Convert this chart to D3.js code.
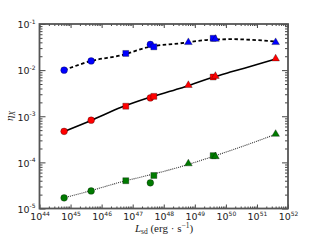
<!DOCTYPE html>
<html>
<head>
<meta charset="utf-8">
<script src="https://cdn.jsdelivr.net/npm/d3@7"></script>
<style>
  body { margin: 0; background: #fff; }
  text { font-family: "DejaVu Sans", sans-serif; }
</style>
</head>
<body>
<div id="chart"></div>
<script>
// spin-down luminosity of each marker group
var circleL   = [6.2e44, 4.6e45, 3.7e47];
var squareL   = [6.0e46, 4.8e47, 3.9e49];
var triangleL = [6.2e48, 4.6e49, 4.0e51];

// eta_X per band, one value per marker in the groups above
var blueCircle   = [0.0100, 0.0158, 0.036];
var blueSquare   = [0.023, 0.032, 0.049];
var blueTriangle = [0.040, 0.047, 0.040];
var redCircle    = [4.7e-4, 8.2e-4, 2.5e-3];
var redSquare    = [1.65e-3, 2.7e-3, 7.1e-3];
var redTriangle  = [4.7e-3, 7.4e-3, 0.0177];
var greenCircle   = [1.7e-5, 2.4e-5, 3.6e-5];
var greenSquare   = [4.0e-5, 5.2e-5, 1.4e-4];
var greenTriangle = [9.4e-5, 1.34e-4, 4.1e-4];

// fitted curves
var fitL     = [6.2e44, 4.6e45, 4.5e46, 3.2e47, 3.2e48, 3.2e49, 1.6e50, 1e51, 4.0e51];
var fitBlue  = [0.0100, 0.0158, 0.0212, 0.0316, 0.038, 0.0457, 0.0468, 0.0447, 0.0417];
var fitRed   = [4.68e-4, 8.1e-4, 1.58e-3, 2.51e-3, 3.98e-3, 6.76e-3, 9.3e-3, 0.0132, 0.0174];
var fitGreen = [1.70e-5, 2.45e-5, 3.8e-5, 5.25e-5, 7.9e-5, 1.29e-4, 1.86e-4, 2.88e-4, 4.07e-4];

var xExp = [44, 45, 46, 47, 48, 49, 50, 51, 52];
var yExp = [-5, -4, -3, -2, -1];

var width = 320, height = 240;
var plot = {left: 39.5, right: 288, top: 24, bottom: 208.5};

var svg = d3.select("#chart").append("svg")
   .attr("width", width).attr("height", height);

var x = d3.scaleLog().domain([1e44, 1e52]).range([plot.left, plot.right]);
var y = d3.scaleLog().domain([1e-5, 1e-1]).range([plot.bottom, plot.top]);

var xMajor = xExp.map(function(e){ return Math.pow(10, e); });
var yMajor = yExp.map(function(e){ return Math.pow(10, e); });
function minors(exps) {
   var out = [];
   for (var i = 0; i < exps.length - 1; i++)
      for (var k = 2; k <= 9; k++) out.push(k * Math.pow(10, exps[i]));
   return out;
}
var xMinor = minors(xExp), yMinor = minors(yExp);

var tickColor = "#444";

function drawAxis(axis, tx, ty) {
   var g = svg.append("g").attr("transform", "translate(" + tx + "," + ty + ")").call(axis);
   g.select(".domain").remove();
   g.selectAll("line").attr("stroke", tickColor).attr("stroke-width", 1);
   return g;
}

// minor ticks, all four sides pointing in
drawAxis(d3.axisBottom(x).tickValues(xMinor).tickSize(-2).tickFormat(""), 0, plot.bottom);
drawAxis(d3.axisTop(x).tickValues(xMinor).tickSize(-2).tickFormat(""), 0, plot.top);
drawAxis(d3.axisLeft(y).tickValues(yMinor).tickSize(-3).tickFormat(""), plot.left, 0);
drawAxis(d3.axisRight(y).tickValues(yMinor).tickSize(-3).tickFormat(""), plot.right, 0);

// major ticks
var xb = drawAxis(d3.axisBottom(x).tickValues(xMajor).tickSize(-4).tickPadding(3), 0, plot.bottom);
drawAxis(d3.axisTop(x).tickValues(xMajor).tickSize(-4).tickFormat(""), 0, plot.top);
var yl = drawAxis(d3.axisLeft(y).tickValues(yMajor).tickSize(-6).tickPadding(4), plot.left, 0);
drawAxis(d3.axisRight(y).tickValues(yMajor).tickSize(-6).tickFormat(""), plot.right, 0);

function powerLabel(sel) {
   sel.each(function(d) {
      var t = d3.select(this);
      var e = Math.round(Math.log10(d));
      t.text(null).attr("fill", "#222").attr("font-size", 9.5);
      t.append("tspan").text("10");
      t.append("tspan").attr("font-size", 6).attr("dy", -4.5)
         .text(e < 0 ? "-" + (-e) : e);
   });
}
xb.selectAll(".tick text").call(powerLabel).attr("dy", "0.9em");
yl.selectAll(".tick text").call(powerLabel).attr("dy", "0.4em");

// frame
svg.append("rect")
   .attr("x", plot.left).attr("y", plot.top)
   .attr("width", plot.right - plot.left).attr("height", plot.bottom - plot.top)
   .attr("fill", "none").attr("stroke", "#555").attr("stroke-width", 1.8);

// fit curves
var line = d3.line()
   .x(function(d){ return x(d[0]); })
   .y(function(d){ return y(d[1]); })
   .curve(d3.curveMonotoneX);
function fit(vals, dash, w, color) {
   svg.append("path")
      .attr("d", line(fitL.map(function(l, i){ return [l, vals[i]]; })))
      .attr("fill", "none").attr("stroke", color)
      .attr("stroke-width", w)
      .attr("stroke-dasharray", dash);
}
fit(fitBlue, "3.5,2.5", 1.8, "#000");
fit(fitRed, null, 1.6, "#000");
fit(fitGreen, "1,1", 1.1, "#333");

// markers
var shapes = {circle: d3.symbolCircle, square: d3.symbolSquare, triangle: d3.symbolTriangle};
var sizes = {circle: 36, square: 36, triangle: 26};
function markers(xs, ys, shape, color) {
   svg.append("g").selectAll("path").data(xs).enter().append("path")
      .attr("d", d3.symbol().type(shapes[shape]).size(sizes[shape]))
      .attr("transform", function(d, i){ return "translate(" + x(d) + "," + y(ys[i]) + ")"; })
      .attr("fill", color).attr("stroke", "#000").attr("stroke-width", 0.3);
}
markers(circleL, blueCircle, "circle", "#0000ff");
markers(squareL, blueSquare, "square", "#0000ff");
markers(triangleL, blueTriangle, "triangle", "#0000ff");
markers(circleL, redCircle, "circle", "#ff0000");
markers(squareL, redSquare, "square", "#ff0000");
markers(triangleL, redTriangle, "triangle", "#ff0000");
markers(circleL, greenCircle, "circle", "#007a00");
markers(squareL, greenSquare, "square", "#007a00");
markers(triangleL, greenTriangle, "triangle", "#007a00");

// axis titles
var xt = svg.append("text")
   .attr("x", 164).attr("y", 232)
   .attr("text-anchor", "middle")
   .style("font-family", "'Liberation Serif', serif")
   .attr("font-size", 11).attr("fill", "#222");
xt.append("tspan").attr("font-style", "italic").text("L");
xt.append("tspan").attr("font-size", 7.5).attr("dy", 2).text("sd");
xt.append("tspan").attr("dy", -2).text(" (erg \u00b7 s");
xt.append("tspan").attr("font-size", 7.5).attr("dy", -4.5).text("\u22121");
xt.append("tspan").attr("dy", 4.5).text(")");

var yt = svg.append("text")
   .attr("transform", "translate(13,116) rotate(-90)")
   .attr("text-anchor", "middle")
   .style("font-family", "'Liberation Serif', serif")
   .attr("font-size", 11).attr("fill", "#222");
yt.append("tspan").attr("font-style", "italic").text("\u03b7");
yt.append("tspan").attr("font-size", 7.5).attr("font-style", "italic").attr("dy", 2).text("X");
</script>
</body>
</html>
